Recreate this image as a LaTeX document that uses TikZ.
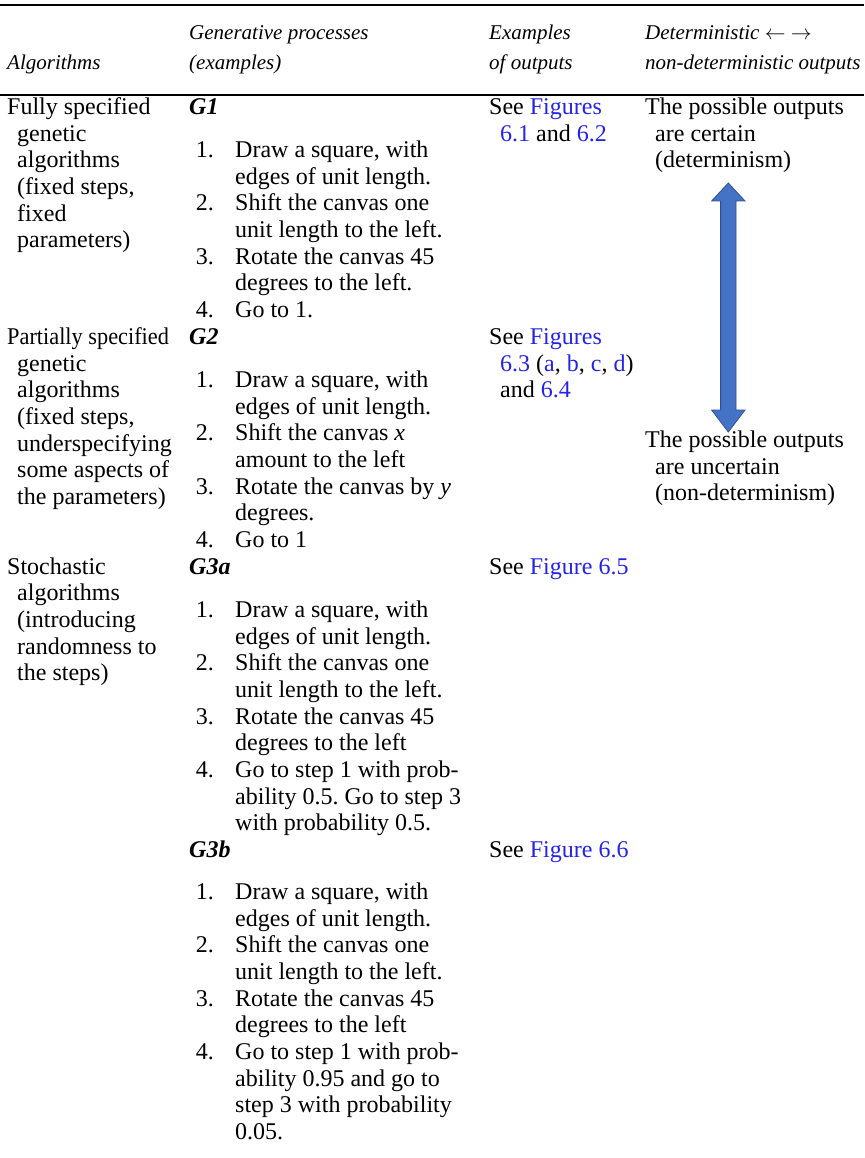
\documentclass[tikz,border=0pt]{standalone}
\usepackage{fontspec}
\usepackage{graphicx}
\setmainfont{Liberation Serif}
\definecolor{linkblue}{RGB}{35,35,235}
\definecolor{arrowfill}{RGB}{68,114,196}
\definecolor{arrowedge}{RGB}{47,82,143}
\newcommand{\lnk}[1]{\textcolor{linkblue}{#1}}
\frenchspacing
\begin{document}
\begin{tikzpicture}[x=1pt,y=-1pt,
  txt/.style={anchor=mid west, inner sep=0pt, font=\fontsize{24}{27}\selectfont},
  hdr/.style={anchor=mid west, inner sep=0pt, font=\fontsize{21}{24}\selectfont\itshape},
  num/.style={anchor=mid east, inner sep=0pt, font=\fontsize{24}{27}\selectfont},
  glabel/.style={anchor=mid west, inner sep=0pt, font=\fontsize{24}{27}\selectfont\bfseries\itshape},
  tablerule/.style={line width=#1, black}]
\useasboundingbox (0,0) rectangle (864,1158);

% rules
\draw[tablerule=2.2pt] (0,5) -- (864,5);
\draw[tablerule=1.6pt] (0,95) -- (864,95);

% header
\node[hdr] (h2a) at (189,37) {Generative processes};
\node[hdr] (h2b) at (189,67) {(examples)};
\node[hdr] (h1)  at (7,67) {Algorithms};
\node[hdr] (h3a) at (489,37) {Examples};
\node[hdr] (h3b) at (489,67) {of outputs};
\node[hdr] (h4a) at (645,37) {Deterministic $\leftarrow$ $\rightarrow$};
\node[hdr] (h4b) at (645,67) {non-deterministic outputs};

% ---------- row 1
\node[txt] (a1) at (7,112) {Fully specified};
\node[txt] (a2) at (17,139) {genetic};
\node[txt] (a3) at (17,165) {algorithms};
\node[txt] (a4) at (17,192) {(fixed steps,};
\node[txt] (a5) at (17,219) {fixed};
\node[txt] (a6) at (17,245) {parameters)};

\node[glabel] (g1) at (189,112) {G1};
\node[num] (g1n1) at (214,155) {1.};
\node[txt] (g1t1) at (235,155) {Draw a square, with};
\node[txt] (g1t1b) at (235,182) {edges of unit length.};
\node[num] (g1n2) at (214,208) {2.};
\node[txt] (g1t2) at (235,208) {Shift the canvas one};
\node[txt] (g1t2b) at (235,235) {unit length to the left.};
\node[num] (g1n3) at (214,262) {3.};
\node[txt] (g1t3) at (235,262) {Rotate the canvas 45};
\node[txt] (g1t3b) at (235,288) {degrees to the left.};
\node[num] (g1n4) at (214,315) {4.};
\node[txt] (g1t4) at (235,315) {Go to 1.};

\node[txt] (e1) at (489,112) {See \lnk{Figures}};
\node[txt] (e1b) at (500,139) {\lnk{6.1} and \lnk{6.2}};

\node[txt] (d1) at (645,112) {The possible outputs};
\node[txt] (d1b) at (655,139) {are certain};
\node[txt] (d1c) at (655,165) {(determinism)};

% ---------- row 2
\node[txt] (b1) at (7,342) {\scalebox{0.93}[1]{Partially specified}};
\node[txt] (b2) at (17,369) {genetic};
\node[txt] (b3) at (17,395) {algorithms};
\node[txt] (b4) at (17,422) {(fixed steps,};
\node[txt] (b5) at (17,449) {underspecifying};
\node[txt] (b6) at (17,475) {some aspects of};
\node[txt] (b7) at (17,502) {the parameters)};

\node[glabel] (g2) at (189,342) {G2};
\node[num] (g2n1) at (214,385) {1.};
\node[txt] (g2t1) at (235,385) {Draw a square, with};
\node[txt] (g2t1b) at (235,412) {edges of unit length.};
\node[num] (g2n2) at (214,438) {2.};
\node[txt] (g2t2) at (235,438) {Shift the canvas \textit{x}};
\node[txt] (g2t2b) at (235,465) {amount to the left};
\node[num] (g2n3) at (214,492) {3.};
\node[txt] (g2t3) at (235,492) {Rotate the canvas by \textit{y}};
\node[txt] (g2t3b) at (235,518) {degrees.};
\node[num] (g2n4) at (214,545) {4.};
\node[txt] (g2t4) at (235,545) {Go to 1};

\node[txt] (e2) at (489,342) {See \lnk{Figures}};
\node[txt] (e2b) at (500,369) {\lnk{6.3} (\lnk{a}, \lnk{b}, \lnk{c}, \lnk{d})};
\node[txt] (e2c) at (500,395) {and \lnk{6.4}};

\node[txt] (d2) at (645,445) {The possible outputs};
\node[txt] (d2b) at (655,472) {are uncertain};
\node[txt] (d2c) at (655,498) {(non-determinism)};

% double arrow
\filldraw[fill=arrowfill, draw=arrowedge, line width=0.8pt, line join=miter]
  (728.3,183) -- (745,201) -- (736,201) -- (736,410) -- (745,410) -- (728.3,432)
  -- (711.6,410) -- (720.6,410) -- (720.6,201) -- (711.6,201) -- cycle;

% ---------- row 3
\node[txt] (c1) at (7,572) {Stochastic};
\node[txt] (c2) at (17,598) {algorithms};
\node[txt] (c3) at (17,625) {(introducing};
\node[txt] (c4) at (17,652) {randomness to};
\node[txt] (c5) at (17,678) {the steps)};

\node[glabel] (g3a) at (189,572) {G3a};
\node[num] (g3an1) at (214,615) {1.};
\node[txt] (g3at1) at (235,615) {Draw a square, with};
\node[txt] (g3at1b) at (235,642) {edges of unit length.};
\node[num] (g3an2) at (214,668) {2.};
\node[txt] (g3at2) at (235,668) {Shift the canvas one};
\node[txt] (g3at2b) at (235,695) {unit length to the left.};
\node[num] (g3an3) at (214,722) {3.};
\node[txt] (g3at3) at (235,722) {Rotate the canvas 45};
\node[txt] (g3at3b) at (235,748) {degrees to the left};
\node[num] (g3an4) at (214,775) {4.};
\node[txt] (g3at4) at (235,775) {Go to step 1 with prob-};
\node[txt] (g3at4b) at (235,802) {ability 0.5. Go to step 3};
\node[txt] (g3at4c) at (235,828) {with probability 0.5.};

\node[txt] (e3) at (489,572) {See \lnk{Figure 6.5}};

\node[glabel] (g3b) at (189,855) {G3b};
\node[num] (g3bn1) at (214,897) {1.};
\node[txt] (g3bt1) at (235,897) {Draw a square, with};
\node[txt] (g3bt1b) at (235,924) {edges of unit length.};
\node[num] (g3bn2) at (214,950) {2.};
\node[txt] (g3bt2) at (235,950) {Shift the canvas one};
\node[txt] (g3bt2b) at (235,977) {unit length to the left.};
\node[num] (g3bn3) at (214,1004) {3.};
\node[txt] (g3bt3) at (235,1004) {Rotate the canvas 45};
\node[txt] (g3bt3b) at (235,1030) {degrees to the left};
\node[num] (g3bn4) at (214,1057) {4.};
\node[txt] (g3bt4) at (235,1057) {Go to step 1 with prob-};
\node[txt] (g3bt4b) at (235,1084) {ability 0.95 and go to};
\node[txt] (g3bt4c) at (235,1110) {step 3 with probability};
\node[txt] (g3bt4d) at (235,1137) {0.05.};

\node[txt] (e4) at (489,855) {See \lnk{Figure 6.6}};
\end{tikzpicture}
\end{document}
